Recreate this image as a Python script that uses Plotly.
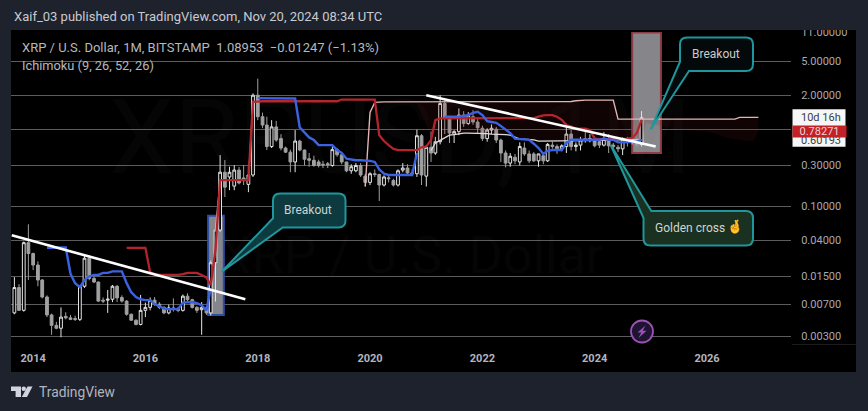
import pandas as pd
import plotly.graph_objects as go

W, H = 868, 411
L, R, T, B = 11, 77, 32, 65
BG = "#1e222d"

# ---------- candle data (monthly XRP/USD, Sep 2013 .. Nov 2024) ----------
candle_start = "2013-09-01"
opens = [.0056,.0111,.0060,.0373,.0278,.0204,.0136,.0086,.0053,.0040,
 .0037,.0051,.0049,.0048,.0047,.0115,.0245,.0142,.0129,.0079,
 .0079,.0081,.0115,.0085,.0077,.0054,.0046,.0041,.0060,.0065,
 .0079,.0071,.0065,.0056,.0064,.0062,.0060,.0088,.0080,.0065,
 .0061,.0064,.0056,.0217,.0525,.25,.22,.172,.265,.214,
 .18,.232,2.0,1.12,.893,.50,.85,.62,.48,.43,
 .33,.58,.455,.36,.345,.33,.31,.315,.30,.46,
 .40,.33,.26,.26,.30,.225,.19,.24,.235,.177,
 .215,.20,.177,.265,.28,.245,.24,.67,.225,.49,
 .42,.57,1.6,1.05,.70,.75,1.17,.93,1.12,.97,
 .82,.62,.78,.80,.596,.42,.32,.375,.33,.48,
 .41,.41,.34,.39,.34,.52,.50,.47,.50,.70,
 .50,.52,.62,.60,.60,.57,.52,.62,.52,.49,
 .47,.60,.57,.60,.53]
highs = [.0147,.0122,.0385,.0613,.0285,.0225,.0140,.0090,.0055,.0044,
 .0065,.0057,.0053,.0052,.0118,.0267,.0267,.0150,.0130,.0085,
 .0104,.0119,.0119,.0090,.0079,.0055,.0047,.0091,.0074,.0085,
 .0086,.0075,.0067,.0070,.0083,.0066,.0092,.0095,.0082,.0067,
 .0075,.0066,.0230,.0550,.397,.347,.29,.303,.288,.303,
 .303,2.1,3.13,1.25,1.12,1.02,1.0,.7,.5,.46,
 .78,.6,.46,.42,.39,.35,.34,.33,.50,.48,
 .40,.33,.31,.32,.32,.24,.25,.27,.24,.23,
 .23,.21,.27,.32,.31,.27,.79,.70,.52,.75,
 .65,2.0,1.75,1.1,.78,1.4,1.3,1.27,1.34,1.05,
 .88,.82,.91,.85,.62,.45,.42,.41,.56,.56,
 .45,.43,.41,.41,.55,.57,.53,.53,.93,.78,
 .56,.65,.74,.70,.66,.62,.74,.70,.55,.52,
 .64,.65,.64,.64,1.3]
lows = [.0054,.0059,.0058,.0136,.0178,.0115,.0083,.0050,.0031,.0036,
 .0029,.0047,.0046,.0045,.0045,.0110,.0135,.0125,.0075,.0073,
 .0056,.0075,.0075,.0074,.0052,.0045,.0040,.0040,.0050,.0060,
 .0068,.0062,.0054,.0054,.0058,.0057,.0058,.0076,.0063,.0056,
 .0031,.0053,.0052,.0076,.050,.128,.154,.154,.18,.177,
 .146,.22,1.02,.82,.455,.48,.57,.45,.42,.25,
 .25,.44,.30,.29,.29,.285,.28,.28,.29,.38,
 .31,.25,.24,.25,.22,.17,.177,.22,.115,.17,
 .19,.17,.17,.25,.23,.225,.22,.177,.17,.33,
 .40,.53,.70,.55,.55,.68,.85,.90,.90,.70,
 .58,.57,.70,.55,.33,.285,.29,.31,.30,.39,
 .32,.33,.29,.31,.33,.47,.41,.44,.42,.45,
 .44,.45,.55,.56,.49,.48,.50,.42,.46,.43,
 .397,.50,.53,.50,.50]
closes = [.0111,.0060,.0373,.0278,.0204,.0136,.0086,.0053,.0040,.0037,
 .0050,.0049,.0047,.0047,.0115,.0245,.0142,.0129,.0077,.0077,
 .0081,.0115,.0084,.0077,.0054,.0046,.0041,.0060,.0065,.0079,
 .0071,.0065,.0056,.0064,.0062,.0060,.0088,.0080,.0065,.0060,
 .0065,.0056,.0217,.0525,.250,.167,.25,.265,.187,.202,
 .232,2.0,1.12,.893,.50,.85,.596,.48,.43,.33,
 .58,.455,.355,.345,.30,.30,.305,.305,.46,.40,
 .33,.26,.29,.30,.232,.19,.24,.235,.177,.22,
 .21,.177,.26,.28,.245,.24,.67,.232,.49,.42,
 .57,1.6,1.07,.72,.75,1.17,.93,1.17,.97,.83,
 .62,.78,.82,.596,.42,.32,.385,.34,.50,.41,
 .34,.34,.41,.34,.53,.50,.47,.51,.70,.50,
 .52,.60,.60,.62,.51,.52,.62,.51,.50,.47,
 .61,.58,.60,.53,1.09]

# ---------- Ichimoku ----------
conv_a_start = "2014-04-01"
conv_a = [.0325,.0325,.0327,.0327,.0327,.0161,.0125,.0112,.0136,.0150,
 .0156,.0156,.0165,.0165,.0172,.0172,.0172,.0125,.0098,.0086,
 .0081,.0079,.0079,.0071,.0067,.0063,.0062,.0062,.0062,.0074,
 .0075,.0075,.0073,.0069,.0060,.0109]
conv_b_start = "2018-01-01"
conv_b = [1.85,1.85,1.85,1.85,1.85,1.85,1.85,1.85,1.83,.84,
 .74,.64,.596,.52,.52,.52,.52,.455,.42,.36,
 .35,.345,.345,.345,.34,.33,.27,.24,.232,.232,
 .232,.232,.232,.232,.42]
conv_c_start = "2021-05-01"
conv_c = [1.12,1.12,1.12,1.12,1.15,1.17,1.24,1.28,1.17,.99,
 .97,.95,.87,.78,.72,.62,.61,.60,.60,.54,
 .48,.41,.445,.455,.455,.455,.55,.60,.60,.60,
 .60,.60,.60,.60,.62,.60,.60,.56,.56,.56,
 .56,.57,.60]
base_start = "2015-09-01"
base = [.0325,.0325,.0325,.0325,.0325,.0168,.0160,.0156,.0156,.0156,
 .0156,.0156,.0160,.0165,.0165,.0165,.0156,.0146,.0119,.0306,
 .202,.202,.202,.202,.202,.202,.202,1.67,1.70,1.70,
 1.70,1.70,1.70,1.70,1.70,1.70,1.70,1.70,1.70,1.70,
 1.70,1.70,1.70,1.70,1.70,1.70,1.78,1.78,1.78,1.78,
 1.78,1.78,1.78,1.78,.68,.58,.52,.47,.455,.455,
 .455,.455,.455,.49,.50,.60,1.02,1.07,1.07,1.07,
 1.07,1.07,1.07,1.07,1.07,1.07,1.07,1.07,1.07,1.07,
 1.07,1.07,1.07,1.07,1.07,1.07,1.07,1.08,1.12,1.16,
 1.17,1.17,1.12,1.03,.893,.86,.81,.81,.81,.78,
 .62,.61,.61,.61,.61,.61,.61,.62,.63,.72,1.02]
span_a_start = "2017-04-01"
span_a = [.0525,.202,.202,.202,.202,.202,.202,.202,1.65]
span_b_start = "2019-12-01"
span_b = [.17,1.26,1.65,1.67,1.67,1.67,1.67,1.67,1.67,1.67,
 1.67,1.67,1.67,1.67,1.67,1.67,1.67,1.67,1.67,1.67,
 1.67,1.67,1.67,1.67,1.67,1.67,1.67,1.67,1.67,1.67,
 1.67,1.67,1.67,1.67,1.67,1.67,1.67,1.67,1.67,1.67,
 1.67,1.67,1.67,1.67,1.69,1.72,1.75,1.75,1.75,1.75,
 1.75,1.75,1.75,1.75,1.05,1.05,1.05,1.05,1.05,1.05,
 1.05,1.05,1.05,1.05,1.05,1.05,1.05,1.05,1.05,1.05,
 1.05,1.05,1.05,1.05,1.05,1.05,1.05,1.05,1.05,1.05,
 1.10,1.10,1.10,1.10,1.10]
span_c_start = "2021-02-01"
span_c = [.45,.55,.59,.64,.68,.69,.71,.72,.72,.72,
 .72,.72,.71,.70,.70,.70,.69,.68,.64,.61,
 .61,.61,.60,.58,.58,.58,.58,.58,.58,.58,
 .58,.58,.58,.58,.58,.59,.59,.59,.60,.60,
 .60,.60,.60,.60,.60,.60]
cloud_start = "2020-11-01"
cloud_lower = [1.6,1.2,.9,.6,.55,.59,.64,.68,.69,.71,
 .72,.72,.72,.72,.72,.71,.70,.70,.70,.69,
 .68,.64,.61,.61,.61,.60,.58,.58,.58,.58,
 .58,.58,.58,.58,.58,.58,.58,.58,.59,.59,
 .59,.60,.60,.60,.60,.60,.60,.60,.60,.95,
 .92,.90,.88,.85,.82,.80,.78,.78,.77,.77,
 .76,.75,.75,.72,.70,.67,.64,.62,.61,.60,
 .59,.58,.58,.75]

# ---------- drawings ----------
trend1_x = ["2013-08-15", "2017-10-12"]
trend1_y = [.0455, .0081]
trend2_x = ["2021-01-01", "2025-02-01"]
trend2_y = [2.0, .50]
box1_x = ["2017-02-12", "2017-05-25"]
box1_y = [.0053, .0770]
box2_x = ["2024-09-01", "2025-03-07"]
box2_y = [.42, 10.9]

# ---------- axes ----------
year_vals = ["2014-01-01","2016-01-01","2018-01-01","2020-01-01","2022-01-01","2024-01-01","2026-01-01"]
year_text = ["2014","2016","2018","2020","2022","2024","2026"]
price_vals = [11,5,2,.8,.3,.1,.04,.015,.007,.003]
price_text = ["11.00000","5.00000","2.00000","","0.30000","0.10000","0.04000","0.01500","0.00700","0.00300"]

def months(start, n):
    return pd.date_range(start, periods=n, freq="MS")

def px(x):
    return (x - L) / (W - L - R)

def py(y):
    return 1 - (y - T) / (H - T - B)

def P(x, y):
    return f"{px(x):.5f},{py(y):.5f}"

fig = go.Figure()
fig.add_trace(go.Candlestick(
    x=months(candle_start, len(opens)), open=opens, high=highs, low=lows, close=closes,
    increasing=dict(line=dict(color="#e4e4e4", width=1), fillcolor="#000000"),
    decreasing=dict(line=dict(color="#a0a0a0", width=1), fillcolor="#a0a0a0"),
    whiskerwidth=0, hoverinfo="skip", showlegend=False))

cloud_x = months(cloud_start, len(cloud_lower))
upper = span_b[len(span_b) - len(cloud_lower):]
fig.add_trace(go.Scatter(x=list(cloud_x) + list(cloud_x[::-1]), y=upper + cloud_lower[::-1],
                         fill="toself", fillcolor="rgba(130,25,25,0.12)", mode="none",
                         hoverinfo="skip", showlegend=False))

def line(start, vals, color, width):
    fig.add_trace(go.Scatter(x=months(start, len(vals)), y=vals, mode="lines",
                             line=dict(color=color, width=width), hoverinfo="skip", showlegend=False))

line(span_a_start, span_a, "#e8b8b8", 1.4)
line(span_b_start, span_b, "#e6b4b4", 1.4)
line(span_c_start, span_c, "#dcdcdc", 1.3)
line(base_start, base, "#b3242c", 2.3)
line(conv_a_start, conv_a, "#3a62e2", 2.4)
line(conv_b_start, conv_b, "#3a62e2", 2.4)
line(conv_c_start, conv_c, "#3a62e2", 2.4)

for xs, ys in ((trend1_x, trend1_y), (trend2_x, trend2_y)):
    fig.add_trace(go.Scatter(x=xs, y=ys, mode="lines", line=dict(color="#ffffff", width=2.6),
                             hoverinfo="skip", showlegend=False))

shapes = []
shapes.append(dict(type="rect", xref="paper", yref="paper", x0=px(11), x1=px(856), y0=py(372), y1=py(30),
                   fillcolor="#000000", line_width=0, layer="below"))
shapes.append(dict(type="rect", xref="x", yref="y", x0=box1_x[0], x1=box1_x[1], y0=box1_y[0], y1=box1_y[1],
                   fillcolor="#85858c", line=dict(color="#2c4fa8", width=2), layer="between"))
shapes.append(dict(type="rect", xref="x", yref="y", x0=box2_x[0], x1=box2_x[1], y0=box2_y[0], y1=box2_y[1],
                   fillcolor="#85858a", line=dict(color="#8c3a44", width=2), layer="between"))
shapes.append(dict(type="rect", xref="paper", yref="paper", x0=px(0), x1=px(868), y0=py(30), y1=py(0),
                   fillcolor=BG, line_width=0, layer="above"))

TEAL = "#1f969c"
def rounded(x0, y0, x1, y1, r, fill, pts_bottom=None, pts_top=None):
    p = []
    if pts_top:
        p.append("M" + P(*pts_top[0]))
        p.append("L" + P(x1 - r, y0))
    else:
        p.append("M" + P(x0 + r, y0))
        p.append("L" + P(x1 - r, y0))
    p.append(f"Q{P(x1, y0)} {P(x1, y0 + r)}")
    p.append("L" + P(x1, y1 - r))
    p.append(f"Q{P(x1, y1)} {P(x1 - r, y1)}")
    if pts_bottom:
        for q in pts_bottom:
            p.append("L" + P(*q))
        p.append("L" + P(x0, y0 + r))
        p.append(f"Q{P(x0, y0)} {P(x0 + r, y0)}")
    elif pts_top:
        p.append("L" + P(x0 + r, y1))
        p.append(f"Q{P(x0, y1)} {P(x0, y1 - r)}")
        for q in pts_top[1:]:
            p.append("L" + P(*q))
    p.append("Z")
    shapes.append(dict(type="path", xref="paper", yref="paper", path=" ".join(p), fillcolor=fill,
                       line=dict(color=TEAL, width=2), layer="above"))

rounded(273, 193.5, 345.5, 227.5, 7, "#0c3a3e", pts_bottom=[(282.7, 227.5), (221.7, 271.7), (273, 218.3)])
rounded(680, 37.5, 753, 71, 7, "#04090b", pts_bottom=[(689, 71), (650.7, 129.3), (680, 61.7)])
rounded(643.5, 211, 753, 245.5, 7, "#1a3020", pts_top=[(651.3, 211), (643.5, 218), (610.7, 145)])

shapes.append(dict(type="rect", xref="paper", yref="paper", x0=px(792.5), x1=px(845.5), y0=py(146.7), y1=py(109.3),
                   fillcolor="#f6f6f6", line_width=0, layer="above"))
shapes.append(dict(type="line", xref="paper", yref="paper", x0=px(792), x1=px(856), y0=py(344.5), y1=py(344.5),
                   line=dict(color="#1b1b1b", width=1), layer="above"))
shapes.append(dict(type="circle", xref="paper", yref="paper", x0=px(631), x1=px(653), y0=py(342.5), y1=py(320.5),
                   fillcolor="#1e1432", line=dict(color="#9c52b4", width=1.8), layer="above"))
bolt = [(645.5, 325.5), (637.5, 332.5), (641.3, 332.5), (638.5, 338), (646.5, 330.7), (642.7, 330.7)]
shapes.append(dict(type="path", xref="paper", yref="paper",
                   path="M" + " L".join(P(*q) for q in bolt) + " Z",
                   fillcolor="#9c52b4", line_width=0, layer="above"))
LOGO = "#d1d4dc"
logo1 = [(11, 386.5), (21, 386.5), (21, 397), (15.6, 397), (15.6, 391), (11, 391)]
logo2 = [(27.5, 386.5), (32.5, 386.5), (27, 397), (21.8, 397)]
for poly in (logo1, logo2):
    shapes.append(dict(type="path", xref="paper", yref="paper",
                       path="M" + " L".join(P(*q) for q in poly) + " Z",
                       fillcolor=LOGO, line_width=0, layer="above"))
shapes.append(dict(type="circle", xref="paper", yref="paper", x0=px(21.6), x1=px(26), y0=py(391), y1=py(386.6),
                   fillcolor=LOGO, line_width=0, layer="above"))

def text(x, y, s, size, color, anchor="left", **kw):
    return dict(xref="paper", yref="paper", x=px(x), y=py(y), text=s, showarrow=False, xanchor=anchor, yanchor="middle",
                font=dict(family="Roboto", size=size, color=color), **kw)

anns = [
    text(400, 137, "XRPUSD, 1M", 104, "rgba(255,255,255,0.02)", "center"),
    text(412, 256, "XRP / U.S. Dollar", 52, "rgba(255,255,255,0.02)", "center"),
    text(11.5, 17, "Xaif_03 published on TradingView.com, Nov 20, 2024 08:34 UTC", 13, "#c8cad0"),
    text(20, 47, "XRP / U.S. Dollar, 1M, BITSTAMP  1.08953  −0.01247 (−1.13%)", 13, "#b6b8bd"),
    text(20, 65.5, "Ichimoku (9, 26, 52, 26)", 12.8, "#b6b8bd"),
    text(308, 210, "Breakout", 12, "#c9d4d4", "center"),
    text(715.5, 54, "Breakout", 12, "#c9cccc", "center"),
    text(653, 227.5, "Golden cross", 12, "#d0d6cf"),
    text(735, 227, "🤞", 13, "#f6b73c", "center"),
    text(37, 392, "TradingView", 13.8, "#b2b5be"),
    text(820.5, 117.8, "10d 16h", 11, "#3a3d45", "center"),
    text(820.5, 140.3, "0.60193", 11, "#3a3d45", "center"),
    dict(xref="paper", yref="paper", x=px(819), y=py(131.6), text="0.78271", showarrow=False,
         xanchor="center", yanchor="middle", font=dict(family="Roboto", size=11, color="#f1d3d3"),
         bgcolor="#c12127", width=53, height=11, borderpad=0),
]

fig.update_layout(
    width=W, height=H, margin=dict(l=L, r=R, t=T, b=B, autoexpand=False),
    paper_bgcolor=BG, plot_bgcolor="#000000", showlegend=False, boxgap=0.08,
    shapes=shapes, annotations=anns, hovermode=False,
    xaxis=dict(type="date", range=["2013-08-10", "2027-07-01"], rangeslider=dict(visible=False),
               showgrid=False, zeroline=False, showline=False, tickmode="array",
               tickvals=year_vals, ticktext=year_text, ticks="outside", ticklen=2, tickcolor="rgba(0,0,0,0)",
               tickfont=dict(family="Roboto", size=11, color="#b2b5be", weight=700)),
    yaxis=dict(type="log", range=[-2.64, 1.0425], side="right", showgrid=True, gridcolor="#5c5c5c", gridwidth=1.2,
               zeroline=False, showline=False, tickmode="array", tickvals=price_vals, ticktext=price_text,
               ticks="outside", ticklen=7, tickcolor="rgba(0,0,0,0)",
               tickfont=dict(family="Roboto", size=11, color="#a8aab0")),
)

fig.write_html("out.html", config={"displayModeBar": False},
               post_script="document.body.style.margin='0';document.body.style.background='#1e222d';document.body.style.overflow='hidden';")
